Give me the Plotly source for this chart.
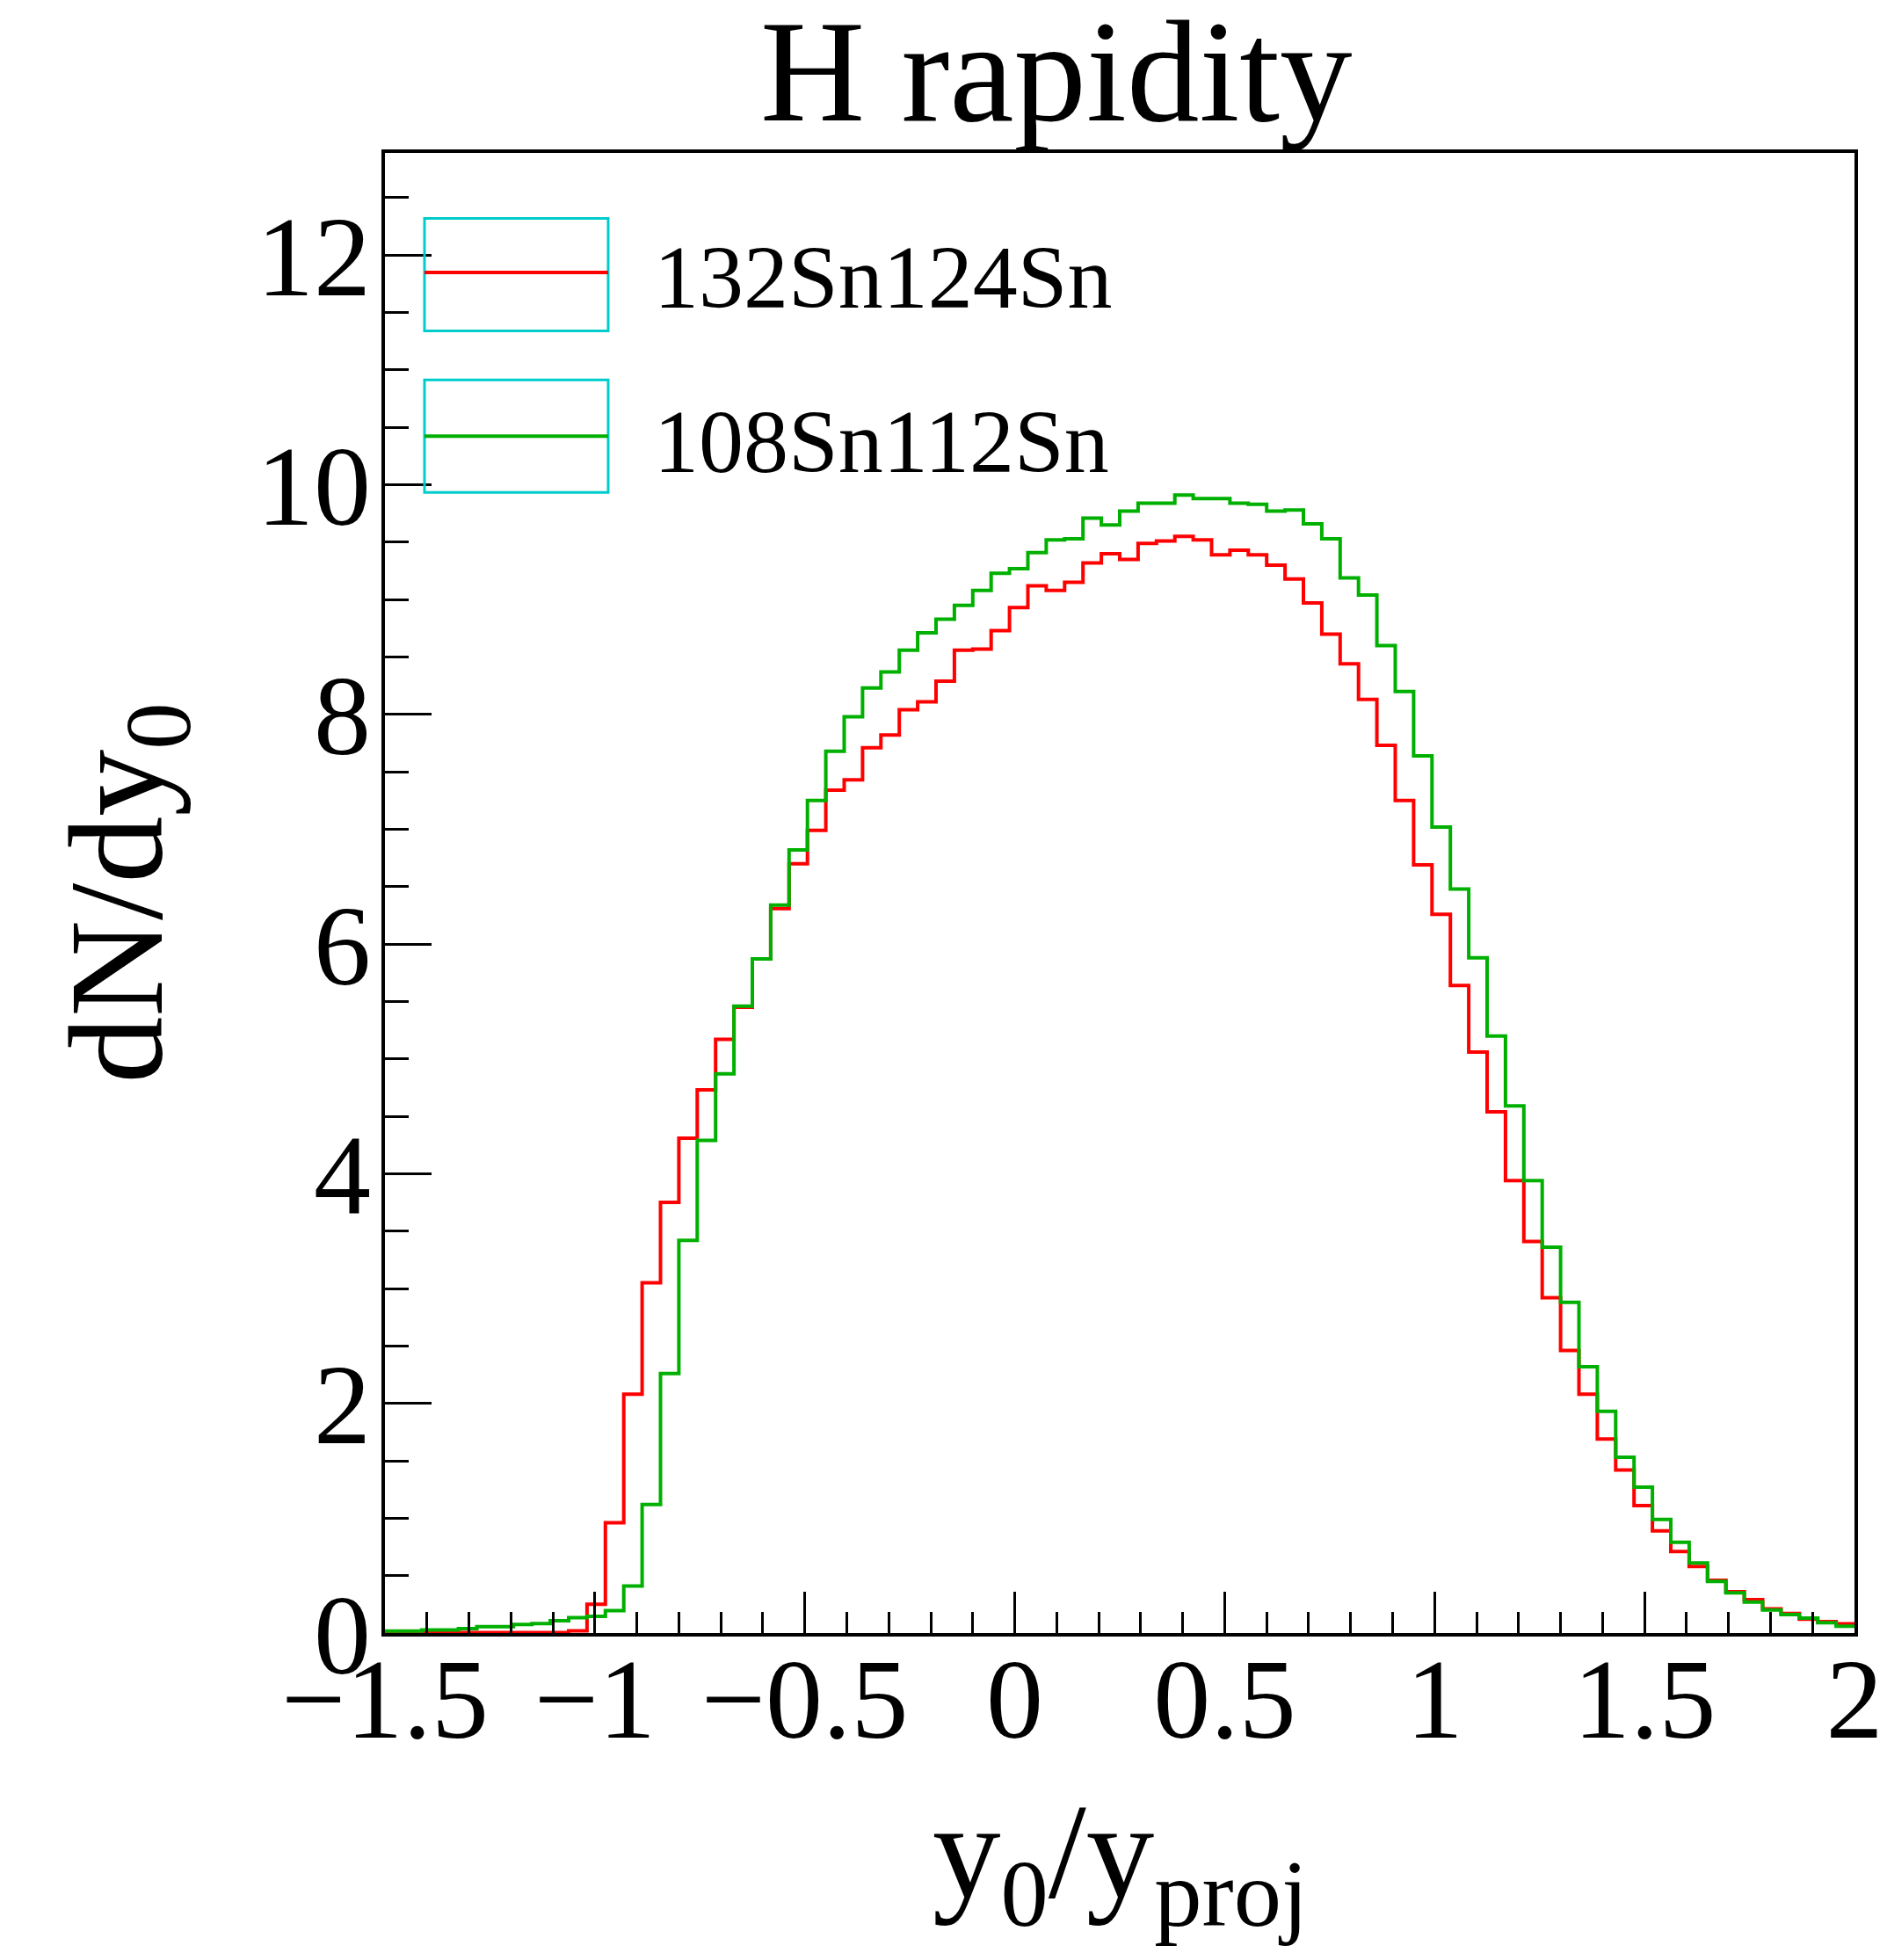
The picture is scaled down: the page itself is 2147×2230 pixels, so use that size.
import numpy as np
import plotly.graph_objects as go

# binning of the rapidity histograms (80 bins from -1.5 to 2)
x_min, x_max, n_bins = -1.5, 2.0, 80

# dN/dy0 per bin
sn132_sn124 = [
    0.0, 0.0, 0.003, 0.003, 0.003, 0.003, 0.003, 0.003, 0.003, 0.003,
    0.02, 0.25, 0.96, 2.08, 3.05, 3.75, 4.31, 4.73, 5.17, 5.45,
    5.87, 6.31, 6.70, 6.99, 7.34, 7.43, 7.71, 7.82, 8.04, 8.11,
    8.29, 8.56, 8.57, 8.73, 8.93, 9.12, 9.08, 9.15, 9.32, 9.40,
    9.35, 9.49, 9.51, 9.55, 9.52, 9.39, 9.43, 9.39, 9.30, 9.18,
    8.97, 8.70, 8.44, 8.13, 7.73, 7.25, 6.69, 6.26, 5.64, 5.06,
    4.54, 3.94, 3.41, 2.92, 2.46, 2.08, 1.69, 1.42, 1.11, 0.89,
    0.71, 0.58, 0.46, 0.36, 0.29, 0.21, 0.17, 0.12, 0.10, 0.08,
]
sn108_sn112 = [
    0.018, 0.018, 0.026, 0.026, 0.038, 0.056, 0.056, 0.074, 0.082, 0.107,
    0.133, 0.145, 0.196, 0.41, 1.12, 2.26, 3.42, 4.29, 4.87, 5.46,
    5.87, 6.34, 6.82, 7.25, 7.68, 7.98, 8.23, 8.37, 8.56, 8.71,
    8.83, 8.95, 9.08, 9.23, 9.27, 9.41, 9.52, 9.53, 9.71, 9.65,
    9.77, 9.84, 9.84, 9.91, 9.88, 9.88, 9.84, 9.83, 9.77, 9.78,
    9.66, 9.53, 9.19, 9.04, 8.60, 8.20, 7.64, 7.02, 6.48, 5.88,
    5.20, 4.59, 3.94, 3.36, 2.88, 2.32, 1.93, 1.53, 1.27, 0.99,
    0.79, 0.61, 0.45, 0.35, 0.27, 0.20, 0.16, 0.13, 0.09, 0.06,
]
series_names = ["132Sn124Sn", "108Sn112Sn"]
series_colors = ["#ff0000", "#00b000"]
y_max = 12.89

FONT = "Liberation Serif, Times New Roman, serif"

edges = np.linspace(x_min, x_max, n_bins + 1)


def step(vals):
    # repeat last value so the 'hv' line reaches the right edge of the last bin
    return list(vals) + [vals[-1]]


fig = go.Figure()
for vals, name, col in zip([sn132_sn124, sn108_sn112], series_names, series_colors):
    fig.add_trace(go.Scatter(
        x=edges, y=step(vals), mode="lines", name=name,
        line=dict(shape="hv", color=col, width=4),
        showlegend=False,
    ))

axis_common = dict(
    showline=True, linecolor="black", linewidth=4, mirror=True,
    ticks="inside", tickcolor="black", tickwidth=3,
    showgrid=False, zeroline=False, automargin=False,
    ticklabeloverflow="allow",
    tickfont=dict(family=FONT, size=130, color="black"),
)
fig.update_xaxes(
    range=[x_min - 1e-6, x_max + 1e-6], tick0=-1.5, dtick=0.5, ticklen=47,
    minor=dict(ticks="inside", dtick=0.1, tick0=-1.5, ticklen=24, tickcolor="black", tickwidth=3),
    ticklabelstandoff=-41,
    **axis_common,
)
fig.update_yaxes(
    range=[0, y_max], tick0=0, dtick=2, ticklen=53,
    minor=dict(ticks="inside", dtick=0.5, ticklen=27, tickcolor="black", tickwidth=3),
    ticklabelstandoff=-14,
    **axis_common,
)

# ROOT-style legend: cyan boxes with the line sample inside
legend_boxes = [(0.9557, 0.8797, 0.9192, 0.9157), (0.8467, 0.7707, 0.8087, 0.8052)]
for (top, bot, ly, ty), name, col in zip(legend_boxes, series_names, series_colors):
    fig.add_shape(type="rect", xref="paper", yref="paper", x0=0.0269, x1=0.1519,
                  y0=bot, y1=top, line=dict(color="#00cccc", width=3))
    fig.add_shape(type="line", xref="paper", yref="paper", x0=0.0269, x1=0.1519,
                  y0=ly, y1=ly, line=dict(color=col, width=4))
    fig.add_annotation(text=name, xref="paper", yref="paper", x=0.1818, y=ty,
                       xanchor="left", yanchor="middle", showarrow=False,
                       font=dict(family=FONT, size=102, color="black"))

# title and axis titles
fig.add_annotation(text="H rapidity", xref="paper", yref="paper", x=0.457, y=1.0547,
                   xanchor="center", yanchor="middle", showarrow=False,
                   font=dict(family=FONT, size=165, color="black"))
fig.add_annotation(text="y<sub>0</sub>/y<sub>proj</sub>", xref="paper", yref="paper",
                   x=0.5, y=-0.154, xanchor="center", yanchor="middle", showarrow=False,
                   font=dict(family=FONT, size=155, color="black"))
fig.add_annotation(text="dN/dy<sub>0</sub>", xref="paper", yref="paper",
                   x=-0.176, y=0.5, xanchor="center", yanchor="middle", showarrow=False,
                   textangle=-90, font=dict(family=FONT, size=152, color="black"))

# the page body has an 8 px margin, so the figure is a bit smaller than the window
fig.update_layout(
    width=2131, height=2214, autosize=False,
    margin=dict(l=430, r=29, t=166, b=364),
    paper_bgcolor="white", plot_bgcolor="white",
)

fig.write_html("out.html")
